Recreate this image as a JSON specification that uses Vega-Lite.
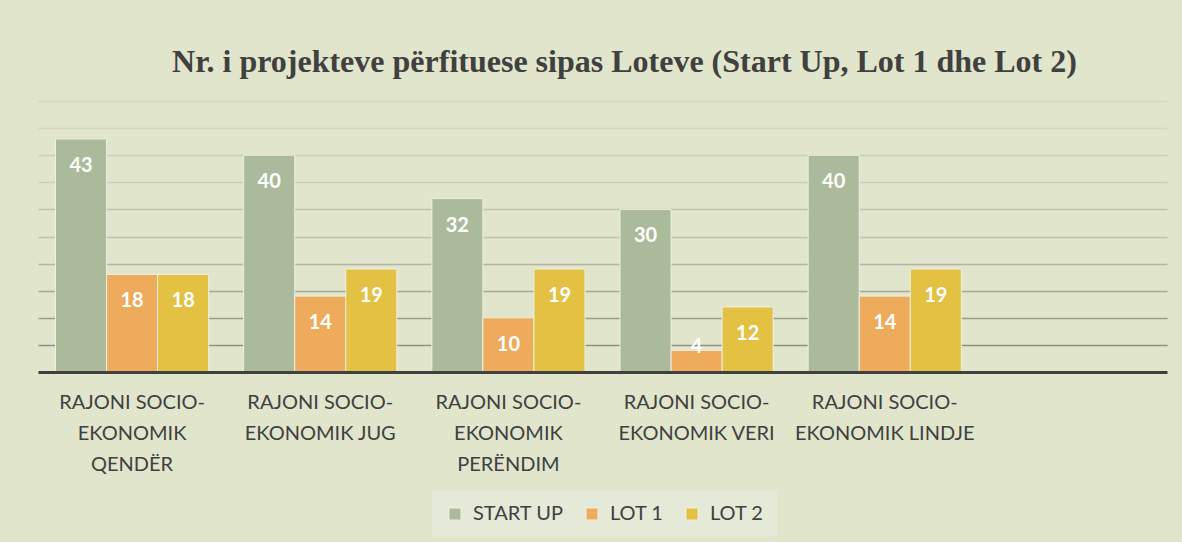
{
  "$schema": "https://vega.github.io/schema/vega-lite/v6.json",
  "width": 1129,
  "height": 271,
  "padding": {"left": 38, "top": 46, "right": 15, "bottom": 5},
  "background": "#e0e5cb",
  "title": {
    "text": "Nr. i projekteve përfituese sipas Loteve (Start Up, Lot 1 dhe Lot 2)",
    "font": "Liberation Serif",
    "fontSize": 32,
    "fontWeight": "bold",
    "color": "#404040",
    "anchor": "middle",
    "dx": 22,
    "offset": 22
  },
  "config": {
    "view": {"stroke": null},
    "font": "Lato"
  },
  "data": {
    "values": [
      {"rajoni": "RAJONI SOCIO-|EKONOMIK|QENDËR", "lot": "START UP", "value": 43},
      {"rajoni": "RAJONI SOCIO-|EKONOMIK|QENDËR", "lot": "LOT 1", "value": 18},
      {"rajoni": "RAJONI SOCIO-|EKONOMIK|QENDËR", "lot": "LOT 2", "value": 18},
      {"rajoni": "RAJONI SOCIO-|EKONOMIK JUG", "lot": "START UP", "value": 40},
      {"rajoni": "RAJONI SOCIO-|EKONOMIK JUG", "lot": "LOT 1", "value": 14},
      {"rajoni": "RAJONI SOCIO-|EKONOMIK JUG", "lot": "LOT 2", "value": 19},
      {"rajoni": "RAJONI SOCIO-|EKONOMIK|PERËNDIM", "lot": "START UP", "value": 32},
      {"rajoni": "RAJONI SOCIO-|EKONOMIK|PERËNDIM", "lot": "LOT 1", "value": 10},
      {"rajoni": "RAJONI SOCIO-|EKONOMIK|PERËNDIM", "lot": "LOT 2", "value": 19},
      {"rajoni": "RAJONI SOCIO-|EKONOMIK VERI", "lot": "START UP", "value": 30},
      {"rajoni": "RAJONI SOCIO-|EKONOMIK VERI", "lot": "LOT 1", "value": 4},
      {"rajoni": "RAJONI SOCIO-|EKONOMIK VERI", "lot": "LOT 2", "value": 12},
      {"rajoni": "RAJONI SOCIO-|EKONOMIK LINDJE", "lot": "START UP", "value": 40},
      {"rajoni": "RAJONI SOCIO-|EKONOMIK LINDJE", "lot": "LOT 1", "value": 14},
      {"rajoni": "RAJONI SOCIO-|EKONOMIK LINDJE", "lot": "LOT 2", "value": 19}
    ]
  },
  "encoding": {
    "x": {
      "field": "rajoni",
      "type": "nominal",
      "sort": null,
      "scale": {
        "domain": [
          "RAJONI SOCIO-|EKONOMIK|QENDËR",
          "RAJONI SOCIO-|EKONOMIK JUG",
          "RAJONI SOCIO-|EKONOMIK|PERËNDIM",
          "RAJONI SOCIO-|EKONOMIK VERI",
          "RAJONI SOCIO-|EKONOMIK LINDJE",
          " "
        ],
        "paddingInner": 0.186,
        "paddingOuter": 0.093
      },
      "axis": {
        "title": null,
        "labelExpr": "split(datum.label, '|')",
        "labelAngle": 0,
        "labelFont": "Lato",
        "labelFontSize": 20,
        "labelColor": "#404040",
        "labelLineHeight": 31,
        "labelPadding": 20,
        "labelBaseline": "top",
        "ticks": false,
        "domain": true,
        "domainColor": "#404040",
        "domainWidth": 3,
        "grid": false,
        "zindex": 1
      }
    },
    "xOffset": {
      "field": "lot",
      "type": "nominal",
      "sort": null,
      "scale": {"domain": ["START UP", "LOT 1", "LOT 2"], "paddingInner": 0, "paddingOuter": 0}
    },
    "y": {
      "field": "value",
      "type": "quantitative",
      "scale": {"domain": [0, 50], "nice": false},
      "axis": {
        "title": null,
        "labels": false,
        "ticks": false,
        "domain": false,
        "values": [5, 10, 15, 20, 25, 30, 35, 40, 45, 50],
        "gridWidth": 1.5,
        "gridColor": {
          "condition": [
            {"test": "datum.value >= 45", "value": "#d3d6c2"},
            {"test": "datum.value >= 35", "value": "#cbcfba"},
            {"test": "datum.value >= 25", "value": "#bfc2ad"},
            {"test": "datum.value >= 20", "value": "#b2b5a2"},
            {"test": "datum.value >= 15", "value": "#a6a998"},
            {"test": "datum.value >= 10", "value": "#9a9d8c"}
          ],
          "value": "#8e9282"
        }
      }
    }
  },
  "layer": [
    {
      "mark": {"type": "bar", "stroke": "#eef0e2", "strokeWidth": 1, "opacity": 1},
      "encoding": {
        "color": {
          "field": "lot",
          "type": "nominal",
          "sort": null,
          "scale": {"domain": ["START UP", "LOT 1", "LOT 2"], "range": ["#abba9a", "#eeab5b", "#e2c143"]},
          "legend": {
            "title": null,
            "orient": "none",
            "legendX": 394,
            "legendY": 390,
            "direction": "horizontal",
            "symbolType": "square",
            "symbolSize": 144,
            "symbolStrokeColor": "#eef0e2",
            "symbolStrokeWidth": 1,
            "labelFont": "Lato",
            "labelFontSize": 20,
            "labelColor": "#404040",
            "labelOffset": 8,
            "columnPadding": 18,
            "fillColor": "#e5e9d8",
            "padding": 13
          }
        }
      }
    },
    {
      "transform": [{"filter": "datum.value >= 8"}],
      "mark": {"type": "text", "color": "white", "fontWeight": "bold", "fontSize": 20, "font": "Lato", "baseline": "middle", "dy": 27},
      "encoding": {"text": {"field": "value", "type": "quantitative"}}
    },
    {
      "transform": [{"filter": "datum.value < 8"}],
      "mark": {"type": "text", "color": "white", "fontWeight": "bold", "fontSize": 20, "font": "Lato", "baseline": "middle", "dy": -3},
      "encoding": {"text": {"field": "value", "type": "quantitative"}}
    }
  ]
}
